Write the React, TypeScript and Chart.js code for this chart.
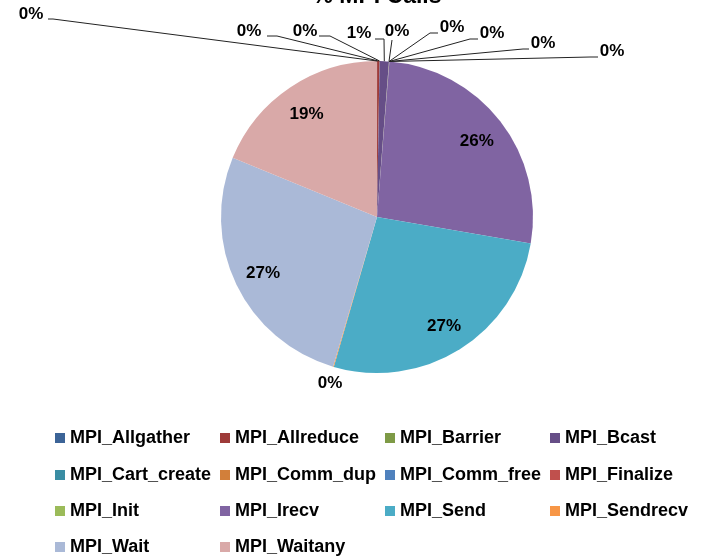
import React, { useEffect, useRef } from 'react';
import { Chart, registerables } from 'chart.js';

Chart.register(...registerables);

// ---- data ----
const chartTitle = '% MPI Calls';
const categories = [
  'MPI_Allgather', 'MPI_Allreduce', 'MPI_Barrier', 'MPI_Bcast',
  'MPI_Cart_create', 'MPI_Comm_dup', 'MPI_Comm_free', 'MPI_Finalize',
  'MPI_Init', 'MPI_Irecv', 'MPI_Send', 'MPI_Sendrecv',
  'MPI_Wait', 'MPI_Waitany',
];
const callShares = [
  0.01, 0.25, 0.01, 0.95,
  0.01, 0.01, 0.01, 0.01,
  0.01, 26.45, 26.75, 0.08,
  26.65, 18.8,
];
const sliceColors = [
  '#3C6497', '#9E3B39', '#7E9A46', '#664E87',
  '#3A8DA3', '#D27F3A', '#4F81BD', '#C0504D',
  '#9BBB59', '#8064A2', '#4BACC6', '#F79646',
  '#AAB9D7', '#D9A9A8',
];

// ---- layout (label placement relative to pie centre) ----
const outerLabelLayout: { index: number; text: [number, number]; path: [number, number][] }[] = [
  { index: 0, text: [-346, -203], path: [[-329, -198], [-324, -198]] },
  { index: 1, text: [-128, -186], path: [[-110, -181], [-100, -181]] },
  { index: 2, text: [-72, -186], path: [[-58, -181], [-47, -181]] },
  { index: 3, text: [-18, -184], path: [[-2, -178], [7, -178]] },
  { index: 4, text: [20, -186], path: [[15, -177]] },
  { index: 5, text: [75, -190], path: [[61, -184], [53, -184]] },
  { index: 6, text: [115, -184], path: [[101, -178], [93, -178]] },
  { index: 7, text: [166, -174], path: [[152, -168], [146, -168]] },
  { index: 8, text: [235, -166], path: [[221, -160], [213, -160]] },
  { index: 11, text: [-47, 166], path: [] },
];
const innerLabelIndices = [9, 10, 12, 13];
const FONT = '"Liberation Sans", Arial, sans-serif';

const overlayPlugin = {
  id: 'overlay',
  afterDraw(chart: any) {
    const ctx: CanvasRenderingContext2D = chart.ctx;
    const meta = chart.getDatasetMeta(0);
    const values: number[] = chart.data.datasets[0].data;
    const colors: string[] = chart.data.datasets[0].backgroundColor;
    const labels: string[] = chart.data.labels;
    const total = values.reduce((a, b) => a + b, 0);
    const pct = (v: number) => Math.round((v / total) * 100) + '%';

    ctx.save();
    // title (mostly cut off at top)
    ctx.fillStyle = '#000';
    ctx.font = `bold 23px ${FONT}`;
    ctx.textAlign = 'center';
    ctx.textBaseline = 'alphabetic';
    const a0 = meta.data[0];
    ctx.fillText(chartTitle, a0.x, 3);

    ctx.font = `bold 17px ${FONT}`;
    ctx.textBaseline = 'middle';

    // inner labels
    innerLabelIndices.forEach((i) => {
      const arc = meta.data[i];
      const mid = (arc.startAngle + arc.endAngle) / 2;
      const r = arc.outerRadius * 0.81;
      ctx.fillText(pct(values[i]), arc.x + Math.cos(mid) * r, arc.y + Math.sin(mid) * r + 2);
    });

    // outer labels with leader lines
    outerLabelLayout.forEach(({ index, text, path }) => {
      const arc = meta.data[index];
      const cx = arc.x, cy = arc.y;
      const mid = (arc.startAngle + arc.endAngle) / 2;
      const ex = cx + Math.cos(mid) * arc.outerRadius;
      const ey = cy + Math.sin(mid) * arc.outerRadius;
      if (path.length) {
        ctx.beginPath();
        ctx.strokeStyle = '#222';
        ctx.lineWidth = 1;
        ctx.moveTo(cx + path[0][0], cy + path[0][1]);
        for (let k = 1; k < path.length; k++) ctx.lineTo(cx + path[k][0], cy + path[k][1]);
        ctx.lineTo(ex, ey);
        ctx.stroke();
      }
      ctx.fillStyle = '#000';
      ctx.fillText(pct(values[index]), cx + text[0], cy + text[1]);
    });

    // legend grid
    ctx.textAlign = 'left';
    ctx.font = `bold 18px ${FONT}`;
    const colX = [55, 220, 385, 550];
    const rowY = [438, 475, 511, 547];
    labels.forEach((lab, i) => {
      const col = i % 4;
      const row = Math.floor(i / 4);
      const x = colX[col];
      const y = rowY[row];
      ctx.fillStyle = colors[i];
      ctx.fillRect(x, y - 5, 10, 10);
      ctx.fillStyle = '#000';
      ctx.fillText(lab, x + 15, y);
    });
    ctx.restore();
  },
};

export default function App() {
  const ref = useRef<HTMLCanvasElement | null>(null);
  useEffect(() => {
    if (!ref.current) return;
    const chart = new Chart(ref.current, {
      type: 'pie',
      data: {
        labels: categories,
        datasets: [
          {
            data: callShares,
            backgroundColor: sliceColors,
            borderWidth: 0,
            radius: 156,
          } as any,
        ],
      },
      options: {
        responsive: false,
        animation: false,
        layout: { padding: { left: 221, right: 173, top: 61, bottom: 186 } },
        plugins: {
          legend: { display: false },
          title: { display: false },
          tooltip: { enabled: false },
        },
      },
      plugins: [overlayPlugin],
    });
    return () => chart.destroy();
  }, []);
  return (
    <div style={{ position: 'fixed', left: 0, top: 0, width: 706, height: 559, background: '#fff' }}>
      <canvas ref={ref} width={706} height={559} style={{ display: 'block' }} />
    </div>
  );
}
